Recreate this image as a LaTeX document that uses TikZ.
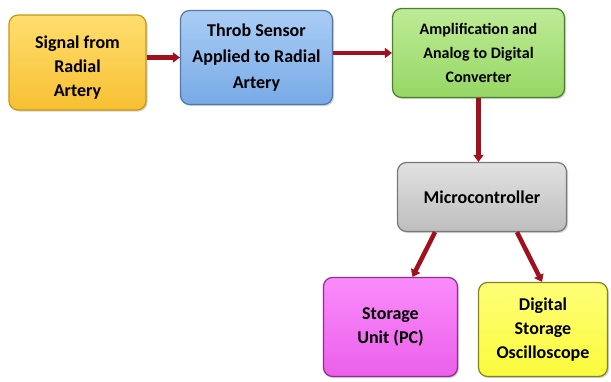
\documentclass[tikz,border=0pt]{standalone}
\usepackage{fontspec}
\setmainfont{Carlito}
\usetikzlibrary{arrows.meta,shadows}
\definecolor{arr}{HTML}{A0101E}
\tikzset{
  blk/.style={rounded corners=9pt, line width=1.2pt, align=center, inner sep=2pt,
    font=\fontsize{18}{24}\selectfont\bfseries, text=black,
    drop shadow={shadow xshift=1.5pt, shadow yshift=-1.5pt, opacity=0.35}},
  conn/.style={draw=arr, line width=4.5pt, -{Triangle[length=7pt,width=10pt]}}
}
\begin{document}
\begin{tikzpicture}[x=1pt,y=-1pt]
\useasboundingbox (0,0) rectangle (611,381);
\node[blk, draw={rgb,255:red,200;green,150;blue,20}, top color={rgb,255:red,255;green,222;blue,110}, bottom color={rgb,255:red,247;green,192;blue,50}, minimum width=137pt, minimum height=95pt] (b1) at (77.5,62.5) {\rule{0pt}{23pt}Signal from\\Radial\\Artery};
\node[blk, font=\fontsize{18}{26}\selectfont\bfseries, draw={rgb,255:red,80;green,120;blue,170}, top color={rgb,255:red,170;green,205;blue,245}, bottom color={rgb,255:red,120;green,170;blue,230}, minimum width=152pt, minimum height=94pt] (b2) at (256.5,57.5) {Throb Sensor\\Applied to Radial\\Artery};
\node[blk, font=\fontsize{16}{24}\selectfont\bfseries, draw={rgb,255:red,70;green,130;blue,40}, top color={rgb,255:red,190;green,235;blue,150}, bottom color={rgb,255:red,150;green,215;blue,100}, minimum width=172pt, minimum height=89pt] (b3) at (478.5,53) {Amplification and\\Analog to Digital\\Converter};
\node[blk, draw={rgb,255:red,120;green,120;blue,120}, top color={rgb,255:red,225;green,225;blue,225}, bottom color={rgb,255:red,190;green,190;blue,190}, minimum width=169pt, minimum height=69pt] (mc) at (482,197) {Microcontroller};
\node[blk, draw={rgb,255:red,150;green,40;blue,150}, top color={rgb,255:red,250;green,140;blue,250}, bottom color={rgb,255:red,235;green,95;blue,235}, minimum width=134pt, minimum height=99pt] (pc) at (390.5,327) {Storage\\Unit (PC)};
\node[blk, draw={rgb,255:red,130;green,130;blue,30}, top color={rgb,255:red,255;green,255;blue,120}, bottom color={rgb,255:red,250;green,250;blue,60}, minimum width=129pt, minimum height=94pt] (dso) at (543,329.5) {Digital\\Storage\\Oscilloscope};
\draw[conn] (b1.east |- b2.west) -- (b2.west);
\draw[conn] (b2.east |- b3.west) -- (b3.west);
\draw[conn] (b3.south) -- (b3.south |- mc.north);
\draw[conn] ([xshift=-47pt]mc.south) -- ([xshift=22pt]pc.north);
\draw[conn] ([xshift=35pt]mc.south) -- ([xshift=-1pt]dso.north);
\end{tikzpicture}
\end{document}
